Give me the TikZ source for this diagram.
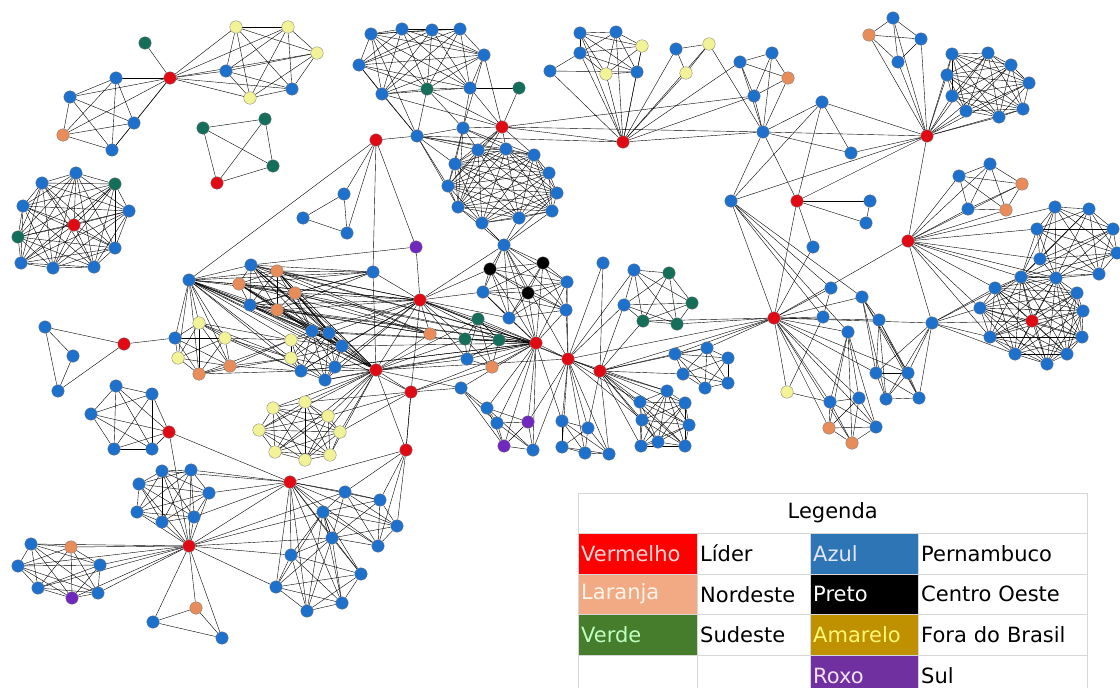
\documentclass[tikz,border=0pt]{standalone}
\usepackage{fontspec}
\usetikzlibrary{backgrounds}
\newfontfamily\legfont{DejaVu Sans}

\definecolor{azulc}{RGB}{30,112,205}
\definecolor{vermc}{RGB}{225,10,20}
\definecolor{larc}{RGB}{232,140,90}
\definecolor{verdec}{RGB}{20,110,90}
\definecolor{amarc}{RGB}{242,242,150}
\definecolor{roxoc}{RGB}{112,40,190}
\definecolor{lgverm}{RGB}{255,0,0}
\definecolor{lglar}{RGB}{242,170,132}
\definecolor{lgverde}{RGB}{70,125,45}
\definecolor{lgazul}{RGB}{46,117,182}
\definecolor{lgamar}{RGB}{191,144,0}
\definecolor{lgroxo}{RGB}{112,48,160}
\definecolor{grade}{RGB}{215,215,215}

% all edges of a group of nodes
\newcommand{\kclique}[1]{%
  \foreach \na [count=\ia] in {#1}{%
    \foreach \nb [count=\ib] in {#1}{%
      \ifnum\ib>\ia\relax \draw (\na) -- (\nb);\fi}}}
% every node of the first list to every node of the second
\newcommand{\ligar}[2]{%
  \foreach \na in {#1}{\foreach \nb in {#2}{\draw (\na) -- (\nb);}}}

\begin{document}
\begin{tikzpicture}[x=1pt, y=-1pt,
    no/.style = {circle, draw=black!50, line width=0.35pt, inner sep=0pt,
                 minimum size=12.5pt},
    azul/.style = {no, fill=azulc},
    vermelho/.style = {no, fill=vermc},
    laranja/.style = {no, fill=larc},
    verde/.style = {no, fill=verdec},
    amarelo/.style = {no, fill=amarc},
    preto/.style = {no, fill=black},
    roxo/.style = {no, fill=roxoc},
    celula/.style = {rectangle, anchor=north west, inner xsep=3pt, inner ysep=0pt,
                     align=left, font=\legfont\fontsize{21}{24}\selectfont}
]
  \useasboundingbox (0,0) rectangle (1120,688);

  % leaders
  \foreach \n/\x/\y in {r1/170/78, r2/217/183, r3/74/225, r4/376/140, r5/502/127,
      r6/623/142, r7/927/136, r8/797/201, r9/908/241, r10/774/318, r11/1032/321,
      r12/420/300, r13/536/343, r14/568/359, r15/600/371, r16/376/370, r17/411/392,
      r18/124/344, r19/169/432, r20/406/450, r21/290/482, r22/189/546}
    \node[vermelho] (\n) at (\x,\y) {};

  \foreach \n/\x/\y in {a4/63/135, m3/788/78, o1/869/35, s3/1022/184, s5/1006/210,
      w3/829/428, w4/852/443, j2/277/271, j3/239/284, j4/295/293, j6/277/310,
      y6/199/374, y7/230/366, oo1/430/334, oo2/492/367, mm2/71/547, tt1/196/608}
    \node[laranja] (\n) at (\x,\y) {};

  \foreach \n/\x/\y in {g1/145/43, c1/203/128, c2/265/119, c3/273/166, d3/115/184,
      d9/18/237, e8/427/89, e10/519/88, gg1/478/319, gg2/465/339, gg3/499/340,
      gc2/669/273, gc3/692/303, gc5/643/321, gc6/677/324}
    \node[verde] (\n) at (\x,\y) {};

  \foreach \n/\x/\y in {b1/236/27, b2/288/27, b3/317/53, b6/250/98, k3/642/46,
      k5/606/74, k9/709/44, k10/686/73, y1/787/392, y3/199/323, y4/225/338,
      y5/178/358, y8/291/340, y9/291/358, yy1/273/408, yy2/305/402, yy3/328/416,
      yy4/340/432, yy5/330/455, yy6/305/460, yy7/275/452, yy8/259/430}
    \node[amarelo] (\n) at (\x,\y) {};

  \foreach \n/\x/\y in {bk1/490/269, bk2/543/263, bk3/528/293}
    \node[preto] (\n) at (\x,\y) {};

  \foreach \n/\x/\y in {p1/416/247, pp1/528/422, pp2/504/446, mm6/72/598}
    \node[roxo] (\n) at (\x,\y) {};

  \foreach \n/\x/\y in {a1/116/78, a2/70/97, a3/134/123, a5/112/150,
      b4/226/71, b5/292/89,
      d1/42/183, d2/76/173, d4/129/211, d5/115/248, d6/94/267, d7/53/268,
      d8/21/263, d10/23/206,
      e1/371/34, e2/402/29, e3/432/30, e4/460/29, e5/484/55, e6/359/65,
      e7/382/94, e9/470/88,
      f1/417/136, f2/463/128, f3/478/150, f4/506/149, f5/534/155, f6/455/164,
      f7/549/173, f8/448/186, f9/557/193, f10/458/207, f11/552/211, f12/482/223,
      f13/519/218, f14/504/245,
      h1/344/194, h2/303/218, h3/347/233,
      k1/580/33, k2/616/32, k4/580/53, k6/637/72, k7/550/71, k8/676/49,
      m1/740/62, m2/772/53, m4/754/96, m5/763/132,
      n1/822/102, n2/851/153, n3/731/201, n4/870/201, n5/866/223, n6/813/247,
      o2/893/18, o3/921/39, o4/898/62,
      q1/952/54, q2/988/53, q3/1011/65, q4/1029/83, q5/947/75, q6/952/96,
      q7/966/111, q8/999/117, q9/1023/109,
      s1/959/176, s2/990/164, s4/968/209,
      t1/1055/207, t2/1089/209, t3/1113/229, t4/1117/253, t5/1037/229,
      t6/1040/259, t7/1099/274, t8/1056/278, t9/1021/277,
      u1/995/288, u2/1077/293, u3/980/308, u4/1083/311, u5/990/337, u6/1082/337,
      u7/1015/354, u8/1067/354, u9/1047/364,
      v1/831/288, v2/862/297, v3/823/317, v4/879/320, v5/932/323, v6/848/332,
      v7/876/373, v8/908/373, v9/886/399, v10/919/398,
      w1/830/402, w2/859/398, w5/876/427,
      z0/189/280, j1/251/265, j5/250/305, j7/373/272,
      y2/175/338, l1/312/331, l2/329/333, l3/342/346, l4/301/371, l5/335/367,
      l6/325/380,
      i1/45/327, i2/73/356, i3/58/391,
      cc1/483/292, cc2/567/282, cc3/566/310, cc4/509/318, cc5/467/359, cc6/461/388,
      gb/603/263, gc1/634/270, gc4/624/305,
      x1/675/354, x2/707/348, x3/728/358, x4/683/374, x5/728/383, x6/705/388,
      z1/667/391, z2/640/402, z3/685/403, z4/642/420, z5/689/425, z6/658/442,
      z7/685/446, z8/641/446,
      bb1/487/408, bb2/497/423, bb3/533/450, bb4/562/421, bb5/588/428,
      bb6/562/447, bb7/585/453, bb8/609/454,
      kk1/116/386, kk2/152/394, kk3/91/414, kk4/114/449, kk5/152/449,
      ll1/162/471, ll2/191/470, ll3/139/484, ll4/209/493, ll5/137/512,
      ll6/162/522, ll7/194/517,
      mm1/31/544, mm3/18/566, mm4/100/565, mm5/38/588, mm7/98/593,
      tt2/153/622, tt3/222/638,
      rr1/345/492, rr2/380/500, rr3/323/512, rr4/397/526, rr5/332/538,
      rr6/378/546, rr7/291/555, rr8/361/574, rr9/276/587, rr10/342/603, rr11/307/611}
    \node[azul] (\n) at (\x,\y) {};

  \begin{scope}[on background layer, draw=black!55, draw opacity=0.75, line width=0.7pt]
    % top left
    \kclique{a1,a2,a3,a4,a5,r1}
    \kclique{b1,b2,b3,b4,b5,b6,r1}
    \draw (r1) -- (g1);
    \kclique{c1,c2,c3,r2}
    \kclique{d1,d2,d3,d4,d5,d6,d7,d8,d9,d10,r3}
    % top middle
    \kclique{e1,e2,e3,e4,e5,e6,e7,e8,e9}
    \ligar{e1,e6,e7,e8}{f1}
    \ligar{e5,e7,e8,e9,e10}{r5}
    \ligar{e5,e8,e9}{f2}
    \draw (e9) -- (e10);
    \kclique{f3,f4,f5,f6,f7,f8,f9,f10,f11,f12,f13}
    \ligar{f1,f2,r5}{f3,f4,f5,f6,f8,f10}
    \ligar{f14}{f9,f10,f11,f12,f13}
    \draw (f1) -- (f2) (f2) -- (r5) (f1) -- (r6) (r5) -- (r6) (r5) -- (m4) (r5) -- (m5);
    \kclique{h1,h2,h3}
    \ligar{r4}{h1,h3,z0,f1,j7,p1}
    % top right
    \kclique{k1,k2,k3,k4,k5,k6}
    \ligar{r6}{k1,k2,k3,k4,k5,k6,k7,k8,k9,k10,m1,m4,m5}
    \draw (k7) -- (k4) (k7) -- (k6) (k9) -- (m5);
    \kclique{k8,k9,k10}
    \kclique{m1,m2,m3,m4}
    \ligar{m5}{m1,m2,m3,m4,n1,n2,n3,r7,r8}
    \ligar{n1}{r7,r8,n2,n3}
    \draw (n2) -- (r7) (n3) -- (r7) (n4) -- (n5) (r7) -- (r9) (r9) -- (r10) (r10) -- (v5);
    \ligar{r8}{n4,n5,n6,r10,r7}
    \kclique{o1,o2,o3,o4}
    \ligar{r7}{o1,o2,o3,o4,q1,q2,q3,q4,q5,q6,q7,q8,q9}
    \kclique{q1,q2,q3,q4,q5,q6,q7,q8,q9}
    \kclique{s1,s2,s3,s4,s5}
    \ligar{r9}{s1,s2,s3,s4,s5,t1,t5,t6,t8,t9,u1,u3,u5,v5}
    \kclique{t1,t2,t3,t4,t5,t6,t7,t8,t9}
    \kclique{u1,u2,u3,u4,u5,u6,u7,u8,u9,r11,t8,t9}
    \ligar{v5}{u1,u3,u5,u7,r11,t9}
    % right middle
    \ligar{r10}{v1,v2,v3,v4,v6,v7,v8,w1,w2,w3,w4,w5,y1,n3,n6,x1,x2,r14,r15,gc5,gc6}
    \ligar{n3}{v1,v2,v3,v6}
    \kclique{w1,w2,w3,w4,w5,v6}
    \kclique{v7,v8,v9,v10}
    \ligar{v2,v4,v5}{v7,v8,v9,v10}
    \draw (y1) -- (w1) (y1) -- (v3) (v1) -- (v3) (v2) -- (v4);
    % centre left
    \kclique{z0,j1,j2,j3,j4,j5,j6}
    \ligar{z0}{y2,y3,y4,y5,y6,y7,y8,y9,l1,l2,l3,l4,r16,r12,j7,r17}
    \ligar{j1,j2,j3,j4,j5,j6}{r12,r16,j7,l1,l2,l3,oo1,r13}
    \kclique{y2,y3,y4,y5,y6,y7}
    \ligar{y3,y4,y6,y7}{y8,y9,l4}
    \ligar{r18}{y2,i1,i3}
    \kclique{i1,i2,i3}
    \kclique{y8,y9,l1,l2,l3,l4,l5,l6}
    \ligar{l1,l2,l3,l4,l5,l6}{r16,r12,r13}
    % centre
    \ligar{r16}{yy1,yy2,yy3,yy4,yy5,yy6,yy7,yy8,r12,r17,r20,oo1,cc5,cc6,gg1,gg2,r13,r14,j7}
    \kclique{yy1,yy2,yy3,yy4,yy5,yy6,yy7,yy8}
    \ligar{r17}{yy2,yy3,yy4,r20,oo2,r13,r12,cc6}
    \ligar{r12}{p1,j7,f14,bk1,cc1,cc4,gg1,gg2,gg3,oo1,r13,r14,r15,cc5}
    \draw (p1) -- (j1);
    \kclique{f14,bk1,bk2,bk3,cc1,cc2,cc3,cc4}
    \ligar{r13}{bk1,bk2,bk3,cc1,cc2,cc3,cc4,f14,gg1,gg2,gg3,oo2,cc5,cc6,r14,bb1,bb2,bb3,bb4,pp1,pp2}
    \kclique{gg1,gg2,gg3,oo2,cc5}
    \ligar{r14}{r15,bb4,bb5,bb6,bb7,bb8,z1,z2,z4,gb,gc1,gc4,cc2,cc3,f14,pp1,bb3}
    \ligar{r15}{z1,z2,z3,z4,z5,z6,z7,z8,x1,x2,x4,gb,gc4,gc5,bb5,bb8}
    \kclique{gc1,gc2,gc3,gc4,gc5,gc6}
    \kclique{x1,x2,x3,x4,x5,x6}
    \kclique{z1,z2,z3,z4,z5,z6,z7,z8}
    \kclique{bb1,bb2,pp1,pp2,bb3}
    \kclique{bb4,bb5,bb6,bb7,bb8}
    \ligar{cc6}{bb1,bb2,pp2}
    % bottom left
    \kclique{kk1,kk2,kk3,kk4,kk5,r19}
    \draw (r19) -- (r21) (r19) -- (r22) (r17) -- (r20) (r20) -- (r21);
    \kclique{ll1,ll2,ll3,ll4,ll5,ll6,ll7}
    \ligar{r22}{ll1,ll2,ll3,ll4,ll5,ll6,ll7,mm1,mm2,mm3,mm4,mm5,mm6,mm7,tt1,tt2,tt3,r21,rr1,rr3,rr5,rr7,rr9}
    \kclique{mm1,mm2,mm3,mm4,mm5,mm6,mm7}
    \kclique{tt1,tt2,tt3}
    \ligar{r21}{ll1,ll2,ll4,ll7,rr1,rr2,rr3,rr4,rr5,rr6,rr7,rr8,rr9,rr10,rr11}
    \kclique{rr1,rr2,rr3,rr4,rr5,rr6}
    \kclique{rr3,rr5,rr7,rr8,rr9,rr10,rr11}
    \ligar{r20}{rr1,rr2,rr4,rr6}
  \end{scope}

  % legend
  \fill[white] (578,493) rectangle (1087,696);
  \node[celula, text width=503pt, minimum height=40pt, align=center] (leg) at (578,493) {Legenda};
  \node[celula, fill=lgverm, text=white!85!red, text width=113pt, minimum height=41pt] (cverm) at (578,533) {Vermelho};
  \node[celula, text width=107pt, minimum height=41pt] (tverm) at (697,533) {Líder};
  \node[celula, fill=lgazul, text=blue!10, text width=102pt, minimum height=41pt] (cazul) at (810,533) {Azul};
  \node[celula, text width=163pt, minimum height=41pt] (tazul) at (918,533) {Pernambuco};
  \node[celula, fill=lglar, text=white!92!orange, text width=113pt, minimum height=40pt] (clar) at (578,574) {Laranja};
  \node[celula, text width=107pt, minimum height=40pt] (tlar) at (697,574) {Nordeste};
  \node[celula, fill=black, text=white, text width=102pt, minimum height=40pt] (cpreto) at (810,574) {Preto};
  \node[celula, text width=163pt, minimum height=40pt] (tpreto) at (918,574) {Centro Oeste};
  \node[celula, fill=lgverde, text=green!25!white, text width=113pt, minimum height=41pt] (cverde) at (578,614) {Verde};
  \node[celula, text width=107pt, minimum height=41pt] (tverde) at (697,614) {Sudeste};
  \node[celula, fill=lgamar, text=yellow!55!white, text width=102pt, minimum height=41pt] (camar) at (810,614) {Amarelo};
  \node[celula, text width=163pt, minimum height=41pt] (tamar) at (918,614) {Fora do Brasil};
  \node[celula, fill=lgroxo, text=white!88!violet, text width=102pt, minimum height=41pt] (croxo) at (810,655) {Roxo};
  \node[celula, text width=163pt, minimum height=41pt] (troxo) at (918,655) {Sul};
  \draw[grade, line width=0.8pt] (578,493) rectangle (1087,696);
  \foreach \yl in {533,574,614,655}
    \draw[grade, line width=0.8pt] (578,\yl) -- (1087,\yl);
  \foreach \xl in {697,810,918}
    \draw[grade, line width=0.8pt] (\xl,533) -- (\xl,696);
\end{tikzpicture}
\end{document}
